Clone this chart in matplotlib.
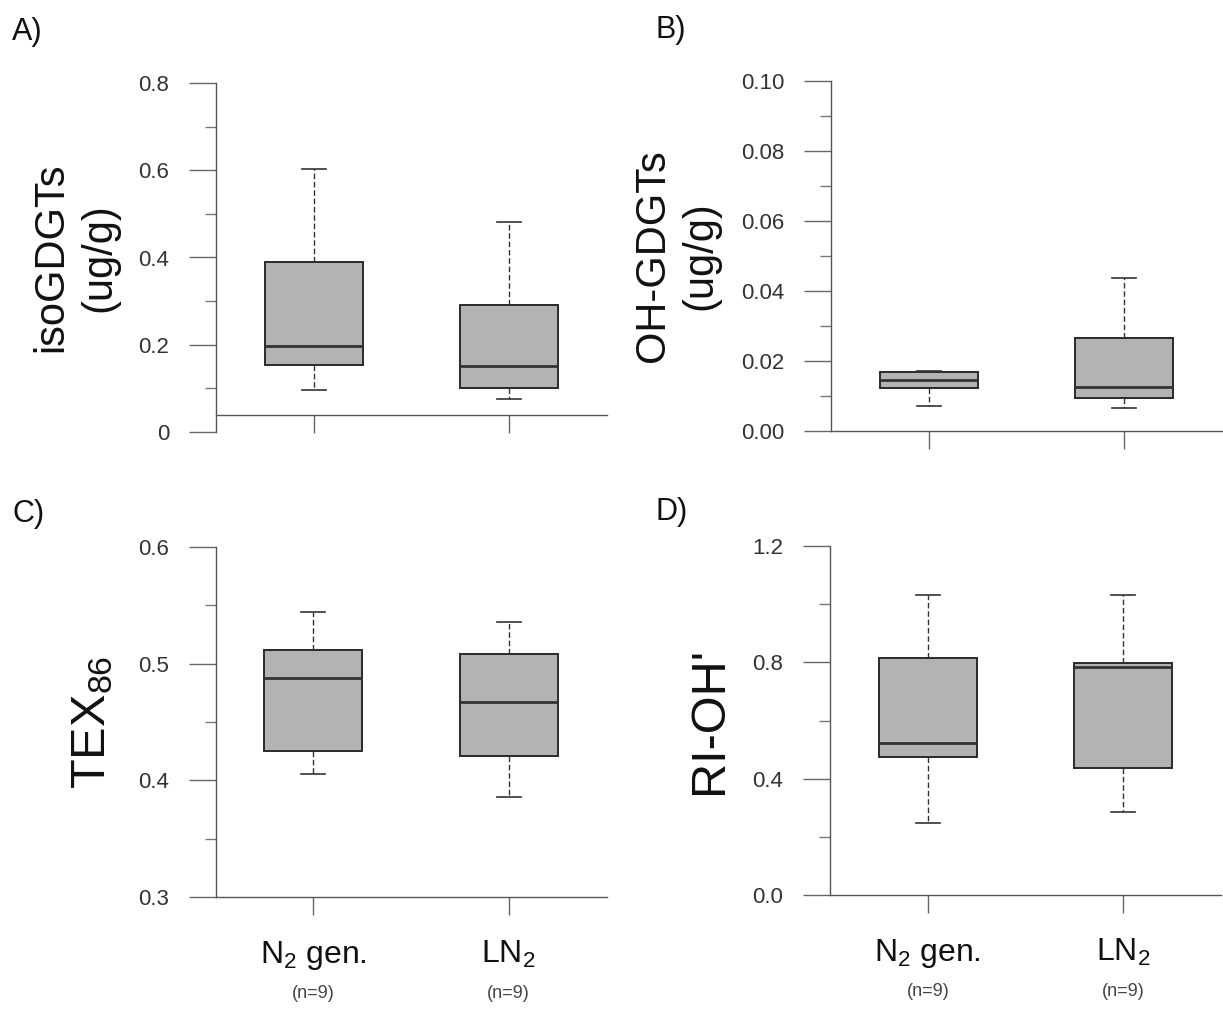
import matplotlib
matplotlib.use("Agg")
import matplotlib.pyplot as plt
from matplotlib.ticker import FixedLocator, FixedFormatter
import matplotlib.transforms as mtransforms

plt.rcParams['font.family'] = ['Liberation Sans', 'DejaVu Sans']
plt.rcParams['mathtext.fontset'] = 'custom'
plt.rcParams['mathtext.rm'] = 'Liberation Sans'
plt.rcParams['mathtext.it'] = 'Liberation Sans:italic'
plt.rcParams['mathtext.bf'] = 'Liberation Sans:bold'

# ---------------- data ----------------
groups = ["N$_2$ gen.", "LN$_2$"]
n_samples = [9, 9]

# isoGDGTs (ug/g)
iso_whislo = [0.097, 0.075]
iso_q1 = [0.154, 0.101]
iso_med = [0.196, 0.152]
iso_q3 = [0.390, 0.290]
iso_whishi = [0.602, 0.482]
iso_baseline = 0.038

# OH-GDGTs (ug/g)
oh_whislo = [0.0071, 0.0065]
oh_q1 = [0.0122, 0.0093]
oh_med = [0.0146, 0.0125]
oh_q3 = [0.0170, 0.0267]
oh_whishi = [0.0172, 0.0438]

# TEX86
tex_whislo = [0.405, 0.386]
tex_q1 = [0.425, 0.421]
tex_med = [0.488, 0.467]
tex_q3 = [0.512, 0.508]
tex_whishi = [0.544, 0.536]

# RI-OH'
ri_whislo = [0.249, 0.286]
ri_q1 = [0.476, 0.436]
ri_med = [0.522, 0.783]
ri_q3 = [0.814, 0.797]
ri_whishi = [1.031, 1.031]

panels = [
    dict(letter="A)", ylabel="isoGDGTs\n(ug/g)", lab_size=30, lab_x=-0.36,
         lo=iso_whislo, q1=iso_q1, med=iso_med, q3=iso_q3, hi=iso_whishi,
         ylim=(0, 0.8), major=[0, 0.2, 0.4, 0.6, 0.8],
         major_lab=["0", "0.2", "0.4", "0.6", "0.8"], minor=[0.1, 0.3, 0.5, 0.7],
         rect=[216/1223, 581/1013, 391/1223, 349/1013], base=iso_baseline, xlabels=False),
    dict(letter="B)", ylabel="OH-GDGTs\n(ug/g)", lab_size=30, lab_x=-0.395,
         lo=oh_whislo, q1=oh_q1, med=oh_med, q3=oh_q3, hi=oh_whishi,
         ylim=(0, 0.10), major=[0, 0.02, 0.04, 0.06, 0.08, 0.10],
         major_lab=["0.00", "0.02", "0.04", "0.06", "0.08", "0.10"],
         minor=[0.01, 0.03, 0.05, 0.07, 0.09],
         rect=[831/1223, 582/1013, 391/1223, 350/1013], base=None, xlabels=False),
    dict(letter="C)", ylabel="TEX$_{86}$", lab_size=35, lab_x=-0.315,
         lo=tex_whislo, q1=tex_q1, med=tex_med, q3=tex_q3, hi=tex_whishi,
         ylim=(0.3, 0.6), major=[0.3, 0.4, 0.5, 0.6],
         major_lab=["0.3", "0.4", "0.5", "0.6"], minor=[0.35, 0.45, 0.55],
         rect=[215.5/1223, 116/1013, 391/1223, 350/1013], base=None, xlabels=True),
    dict(letter="D)", ylabel="RI-OH'", lab_size=35, lab_x=-0.307,
         lo=ri_whislo, q1=ri_q1, med=ri_med, q3=ri_q3, hi=ri_whishi,
         ylim=(0, 1.2), major=[0, 0.4, 0.8, 1.2],
         major_lab=["0.0", "0.4", "0.8", "1.2"], minor=[0.2, 0.6, 1.0],
         rect=[830/1223, 118/1013, 391/1223, 349/1013], base=None, xlabels=True),
]

letter_pos = {"A)": (12, 40), "B)": (655, 38), "C)": (12, 522), "D)": (655, 520)}

fig = plt.figure(figsize=(12.23, 10.13), dpi=100)
dark = "#2a2a2a"
axis_col = "#555555"

for p in panels:
    ax = fig.add_axes(p["rect"])
    stats = []
    for i, g in enumerate(groups):
        stats.append(dict(label=g, whislo=p["lo"][i], q1=p["q1"][i], med=p["med"][i],
                          q3=p["q3"][i], whishi=p["hi"][i], fliers=[]))
    ax.bxp(stats, positions=[1, 2], widths=0.5, capwidths=0.125,
           patch_artist=True, showfliers=False,
           boxprops=dict(facecolor="#b3b3b3", edgecolor=dark, linewidth=1.4),
           whiskerprops=dict(color="#333333", linewidth=1.0, linestyle=(0, (4, 2))),
           capprops=dict(color="#333333", linewidth=1.2),
           medianprops=dict(color="#333333", linewidth=2.0))
    ax.set_xlim(0.5, 2.5)
    ax.set_ylim(*p["ylim"])
    ax.spines["top"].set_visible(False)
    ax.spines["right"].set_visible(False)
    for s in ("left", "bottom"):
        ax.spines[s].set_color(axis_col)
        ax.spines[s].set_linewidth(1.0)
    if p["base"] is not None:
        ax.spines["bottom"].set_position(("data", p["base"]))
    ax.yaxis.set_major_locator(FixedLocator(p["major"]))
    ax.yaxis.set_major_formatter(FixedFormatter(p["major_lab"]))
    ax.yaxis.set_minor_locator(FixedLocator(p["minor"]))
    ax.tick_params(axis="y", which="major", length=19.5, width=1.0, color="#666666",
                   pad=14, labelsize=16, labelcolor="#333333")
    ax.tick_params(axis="y", which="minor", length=8, width=1.0, color="#777777")
    ax.set_xticks([1, 2])
    ax.set_xticklabels(["", ""])
    ax.tick_params(axis="x", which="major", length=13, width=1.0, color="#666666")
    ax.set_facecolor("none")

    ax.text(p["lab_x"], 0.5, p["ylabel"], transform=ax.transAxes, rotation=90,
            ha="center", va="center", fontsize=p["lab_size"], linespacing=1.25,
            multialignment="center", color="#111111")

    if p["xlabels"]:
        trans = mtransforms.blended_transform_factory(ax.transData, ax.transAxes)
        for i, g in enumerate(groups):
            ax.text(i + 1, -0.189, g, transform=trans, ha="center", va="baseline",
                    fontsize=23, color="#111111")
            ax.text(i + 1, -0.289, f"(n={n_samples[i]})", transform=trans,
                    ha="center", va="baseline", fontsize=13, color="#444444")

    lx, ly = letter_pos[p["letter"]]
    fig.text(lx / 1223, 1 - ly / 1013, p["letter"], fontsize=22, ha="left",
             va="baseline", color="#111111")

fig.savefig("out.png", dpi=100)
